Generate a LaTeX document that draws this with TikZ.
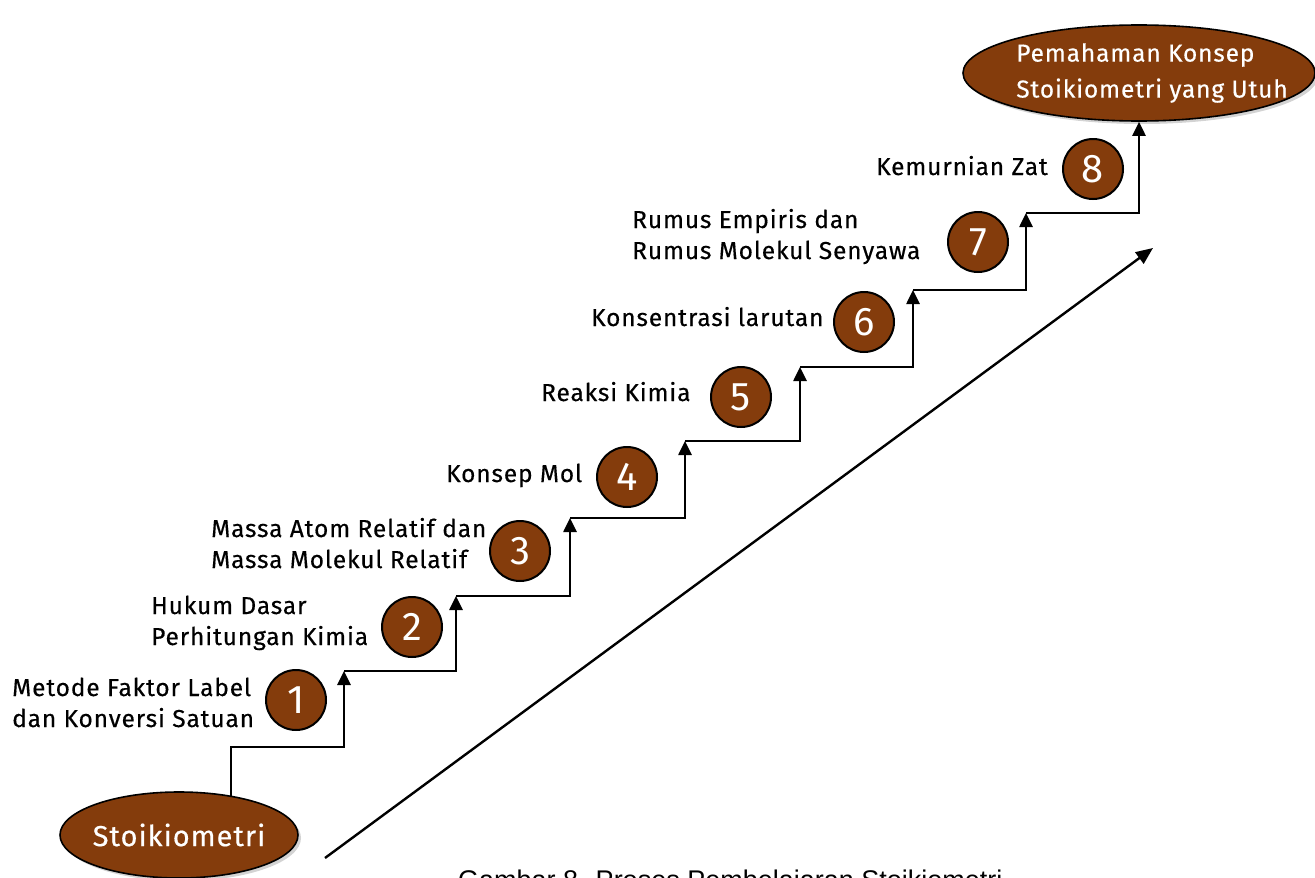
\documentclass[tikz,border=0pt]{standalone}
\usepackage{fontspec}
\setmainfont{Fira Sans}
\newfontfamily\lblfont{Fira Sans}[LetterSpace=3.5, FakeBold=0.4]
\newfontfamily\capfont{Liberation Sans}
\usepackage{xcolor}
\usetikzlibrary{arrows.meta,shapes.geometric,shadows}
\definecolor{stoibrown}{HTML}{843C0C}

\begin{document}
\begin{tikzpicture}[x=1pt, y=-1pt,
  stair/.style={line width=2.6pt, -{Triangle[width=13pt,length=14pt]}},
  oval/.style={ellipse, draw, line width=1.6pt, fill=stoibrown, inner sep=0pt,
    drop shadow={opacity=0.35, shadow xshift=3pt, shadow yshift=-3pt}},
  ovaltext/.style={text=white, align=left, inner sep=0pt},
  num/.style={circle, draw, line width=2pt, fill=stoibrown, text=white,
    minimum size=60pt, inner sep=0pt, font=\fontsize{40}{40}\selectfont},
  lbl/.style={anchor=base west, align=left, inner sep=0pt,
    font=\lblfont\fontsize{24.5}{31}\selectfont}]
  \useasboundingbox (0,0) rectangle (1315,878);

  % tangga pertama (ujung bawah tertutup elips)
  \coordinate (base) at (231,835);
  \coordinate (s0) at (231,747);
  \coordinate (s1) at (344,671);
  \draw[stair] (base) -- (s0) -| (s1);

  % awal dan tujuan
  \node[oval, minimum width=238pt, minimum height=86pt,
    label={[ovaltext, font=\lblfont\fontsize{29}{29}\selectfont]center:Stoikiometri}]
    (start) at (179,835) {};
  \node[oval, minimum width=352pt, minimum height=96pt,
    label={[ovaltext, xshift=13pt, font=\lblfont\fontsize{24.5}{36}\selectfont]center:Pemahaman Konsep\\Stoikiometri yang Utuh}]
    (goal) at (1139,73) {};

  % tangga
  \coordinate (s2) at (456,596);
  \coordinate (s3) at (570,518);
  \coordinate (s4) at (685,441);
  \coordinate (s5) at (800,367);
  \coordinate (s6) at (913,290);
  \coordinate (s7) at (1026,213);
  \foreach \a/\b in {s1/s2,s2/s3,s3/s4,s4/s5,s5/s6,s6/s7}
    \draw[stair] (\a) -| (\b);
  \draw[stair] (s7) -| (goal.south);

  % nomor
  \node[num] (n1) at (296,700) {1};
  \node[num] (n2) at (412,627) {2};
  \node[num] (n3) at (520,551) {3};
  \node[num] (n4) at (627,477) {4};
  \node[num] (n5) at (741,397) {5};
  \node[num] (n6) at (864,322) {6};
  \node[num] (n7) at (978,242) {7};
  \node[num] (n8) at (1093,169) {8};

  % materi (base = baris terakhir)
  \node[lbl] (l1) at (12,727) {Metode Faktor Label\\dan Konversi Satuan};
  \node[lbl] (l2) at (151,645) {Hukum Dasar\\Perhitungan Kimia};
  \node[lbl] (l3) at (211,568) {Massa Atom Relatif dan\\Massa Molekul Relatif};
  \node[lbl] (l4) at (446,482) {Konsep Mol};
  \node[lbl] (l5) at (541,401) {Reaksi Kimia};
  \node[lbl] (l6) at (591,326) {Konsentrasi larutan};
  \node[lbl] (l7) at (632,259) {Rumus Empiris dan\\Rumus Molekul Senyawa};
  \node[lbl] (l8) at (876,175) {Kemurnian Zat};

  % panah besar
  \coordinate (d0) at (325,858);
  \coordinate (d1) at (1153,248);
  \draw[line width=2.4pt, -{Triangle[width=14pt,length=17pt]}] (d0) -- (d1);

  \node[anchor=base west, inner sep=0pt, font=\capfont\fontsize{27}{27}\selectfont]
    (cap) at (458,889) {Gambar 8. Proses Pembelajaran Stoikiometri};
\end{tikzpicture}
\end{document}
